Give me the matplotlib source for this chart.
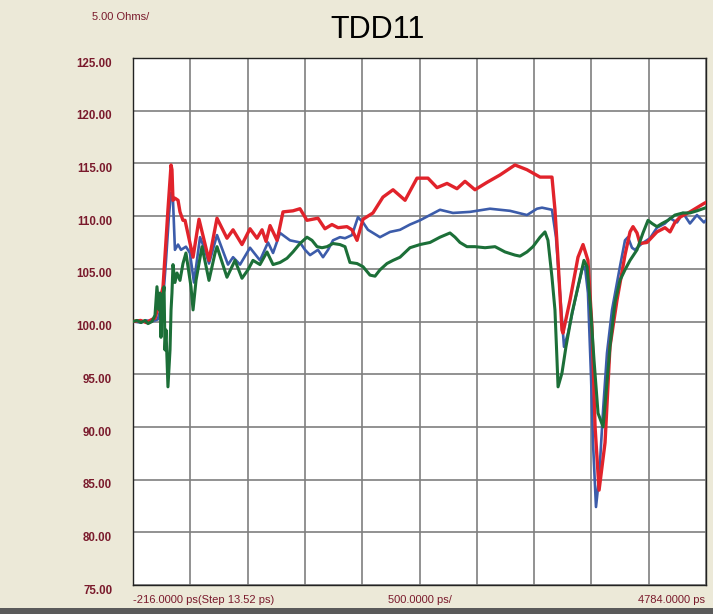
import matplotlib
matplotlib.use("Agg")
import matplotlib.pyplot as plt
import matplotlib.transforms as mtransforms
from matplotlib.patches import Rectangle

plt.rcParams['font.family'] = ['Liberation Sans', 'DejaVu Sans']

# time (ps) and impedance (Ohm)
red_t = [-216, -150, -100, -50, -24, 20, 46, 72, 89, 116, 124, 133, 150, 177, 194, 220,
         238, 308, 360, 447, 517, 604, 657, 735, 805, 866, 910, 945, 980, 1041, 1093,
         1180, 1241, 1302, 1398, 1459, 1520, 1573, 1651, 1695, 1739, 1791, 1878, 1965,
         2053, 2158, 2262, 2358, 2437, 2524, 2611, 2681, 2768, 2873, 2986, 3117, 3222,
         3336, 3440, 3466, 3493, 3527, 3536, 3597, 3667, 3711, 3754, 3789, 3816, 3851,
         3903, 3946, 4007, 4077, 4121, 4147, 4182, 4208, 4269, 4356, 4426, 4470, 4513,
         4557, 4644, 4766, 4784]
red_z = [100.0, 100.1, 99.9, 100.2, 100.3, 102.0, 103.3, 107.7, 110.6, 114.85, 114.4, 111.5,
         111.7, 111.5, 110.4, 109.6, 109.6, 106.1, 109.7, 105.8, 109.8, 107.9, 108.7, 107.3,
         108.8, 107.9, 108.7, 107.6, 109.1, 107.7, 110.4, 110.5, 110.7, 109.6, 109.8, 108.8,
         109.2, 108.9, 109.0, 108.7, 107.7, 109.7, 110.3, 111.8, 112.5, 111.5, 113.6, 113.6,
         112.7, 113.1, 112.6, 113.3, 112.5, 113.2, 113.9, 114.85, 114.4, 113.7, 113.7, 110.6,
         105.8, 99.2, 98.9, 102.0, 106.1, 107.3, 105.8, 99.5, 90.0, 84.0, 88.5, 97.6, 102.0,
         106.3, 108.5, 109.0, 108.4, 107.4, 107.5, 108.5, 108.9, 108.5, 109.4, 109.9, 110.4,
         111.2, 111.3]

blue_t = [-216, -150, -100, -50, 0, 46, 72, 98, 116, 133, 150, 177, 203, 246, 281, 316,
          369, 412, 447, 517, 613, 657, 718, 805, 892, 962, 1006, 1067, 1154, 1241, 1285,
          1329, 1398, 1442, 1486, 1529, 1590, 1634, 1695, 1747, 1791, 1834, 1939, 2027,
          2114, 2201, 2288, 2463, 2576, 2725, 2899, 3074, 3222, 3309, 3353, 3440, 3475,
          3510, 3545, 3580, 3641, 3702, 3728, 3754, 3781, 3798, 3824, 3851, 3886, 3920,
          3964, 4033, 4077, 4103, 4138, 4164, 4225, 4295, 4356, 4426, 4470, 4531, 4583,
          4644, 4705, 4766, 4784]
blue_z = [100.0, 99.9, 100.1, 100.0, 100.2, 102.0, 105.8, 110.1, 112.2, 111.5, 106.8, 107.3,
          106.8, 107.1, 106.5, 103.7, 108.0, 106.8, 105.5, 108.2, 105.4, 106.1, 105.4, 107.0,
          105.8, 107.5, 106.5, 108.4, 107.7, 107.5, 106.8, 106.3, 106.8, 106.1, 106.8, 107.7,
          108.0, 107.9, 108.2, 109.9, 109.4, 108.7, 108.0, 108.5, 108.7, 109.2, 109.6, 110.6,
          110.3, 110.4, 110.7, 110.5, 110.1, 110.7, 110.8, 110.6, 108.0, 102.7, 97.6, 98.9,
          102.0, 104.9, 105.2, 102.7, 94.7, 88.5, 82.4, 85.2, 91.6, 97.0, 101.1, 105.2, 107.7,
          108.0, 107.0, 106.8, 107.4, 107.9, 108.9, 109.3, 109.8, 109.4, 110.3, 109.3, 110.1,
          109.4, 109.6]

green_t = [-216, -181, -146, -111, -85, -50, -24, -7, 11, 20, 28, 37, 55, 63, 72, 89, 107,
           116, 124, 133, 150, 168, 194, 220, 246, 264, 290, 308, 334, 386, 447, 500, 517,
           604, 674, 735, 787, 831, 892, 953, 1006, 1067, 1128, 1180, 1241, 1302, 1346, 1390,
           1433, 1477, 1529, 1590, 1634, 1677, 1739, 1791, 1852, 1896, 1939, 2000, 2053, 2114,
           2201, 2288, 2376, 2463, 2550, 2594, 2637, 2698, 2768, 2856, 2943, 3030, 3117, 3161,
           3222, 3274, 3336, 3379, 3405, 3440, 3466, 3484, 3493, 3527, 3562, 3615, 3667, 3719,
           3746, 3772, 3807, 3842, 3886, 3912, 3946, 3990, 4033, 4077, 4121, 4182, 4234, 4278,
           4313, 4356, 4400, 4452, 4513, 4583, 4644, 4705, 4784]
green_z = [100.0, 100.1, 99.9, 100.1, 99.8, 100.0, 100.6, 103.3, 101.1, 102.7, 98.5, 101.4,
           103.3, 97.3, 99.2, 93.8, 97.3, 101.1, 102.7, 105.4, 103.7, 104.6, 103.9, 105.5,
           106.5, 105.2, 103.3, 101.1, 103.9, 107.1, 103.9, 106.5, 107.1, 104.2, 105.8, 104.1,
           104.9, 105.8, 105.4, 106.6, 105.4, 105.6, 106.0, 106.6, 107.4, 108.0, 107.7, 107.1,
           107.0, 107.1, 107.4, 107.3, 107.1, 105.6, 105.5, 105.2, 104.4, 104.3, 104.9, 105.5,
           105.8, 106.1, 107.0, 107.3, 107.5, 108.0, 108.4, 108.0, 107.5, 107.1, 107.1, 107.0,
           107.1, 106.6, 106.3, 106.2, 106.6, 107.1, 108.0, 108.5, 107.7, 104.2, 101.1, 96.3,
           93.8, 95.1, 97.6, 100.8, 103.3, 105.8, 105.2, 102.0, 96.3, 91.3, 90.0, 93.2, 97.6,
           101.8, 103.9, 104.9, 105.8, 106.8, 108.4, 109.6, 109.3, 109.0, 109.3, 109.6, 110.1,
           110.3, 110.3, 110.5, 110.8]

y_ticks = [75, 80, 85, 90, 95, 100, 105, 110, 115, 120, 125]
t_start, t_div, t_end = -216.0, 500.0, 4784.0

bg = '#ece9d8'
lbl = '#7a1a2c'

fig = plt.figure(figsize=(7.13, 6.14), dpi=100, facecolor=bg)
ax = fig.add_axes([133 / 713, 29 / 614, 573 / 713, 527 / 614], facecolor='white')

ax.plot(blue_t, blue_z, color='#3c5caa', lw=1.9, zorder=3)
ax.plot(red_t, red_z, color='#e1232b', lw=2.4, zorder=4)
ax.plot(green_t, green_z, color='#1c6f38', lw=2.2, zorder=5)

ax.set_xlim(t_start, t_end)
ax.set_ylim(75, 125)
ax.set_xticks([t_start + i * t_div for i in range(11)])
ax.set_yticks(y_ticks)
ax.set_yticklabels([f'{v:.2f}' for v in y_ticks])
ax.tick_params(axis='x', length=0, labelbottom=False)
ax.tick_params(axis='y', length=0, pad=15, labelsize=8.3, labelcolor=lbl)
for t in ax.get_yticklabels():
    t.set_fontweight('bold')
    t.set_transform(t.get_transform() + mtransforms.ScaledTranslation(0, -3 / 72, fig.dpi_scale_trans))
ax.grid(True, color='#7f7f7f', lw=1.2)
ax.set_axisbelow(True)
for s in ax.spines.values():
    s.set_color('#222222')
    s.set_linewidth(1.0)

fig.text(378 / 713, 1 - 30 / 614, 'TDD11', ha='center', va='center', fontsize=22, color='black')
fig.text(92 / 713, 1 - 17 / 614, '5.00 Ohms/', ha='left', va='center', fontsize=8, color=lbl)

fig.text(133 / 713, 1 - 600 / 614, f'{t_start:.4f} ps(Step 13.52 ps)', ha='left', va='center',
         fontsize=8, color=lbl)
fig.text(420 / 713, 1 - 600 / 614, f'{t_div:.4f} ps/', ha='center', va='center',
         fontsize=8, color=lbl)
fig.text(705 / 713, 1 - 600 / 614, f'{t_end:.4f} ps', ha='right', va='center',
         fontsize=8, color=lbl)

fig.patches.append(Rectangle((0, 0), 1, 6 / 614, transform=fig.transFigure,
                             facecolor='#5a5a5a', edgecolor='none'))

fig.savefig('out.png', dpi=100, facecolor=bg)
